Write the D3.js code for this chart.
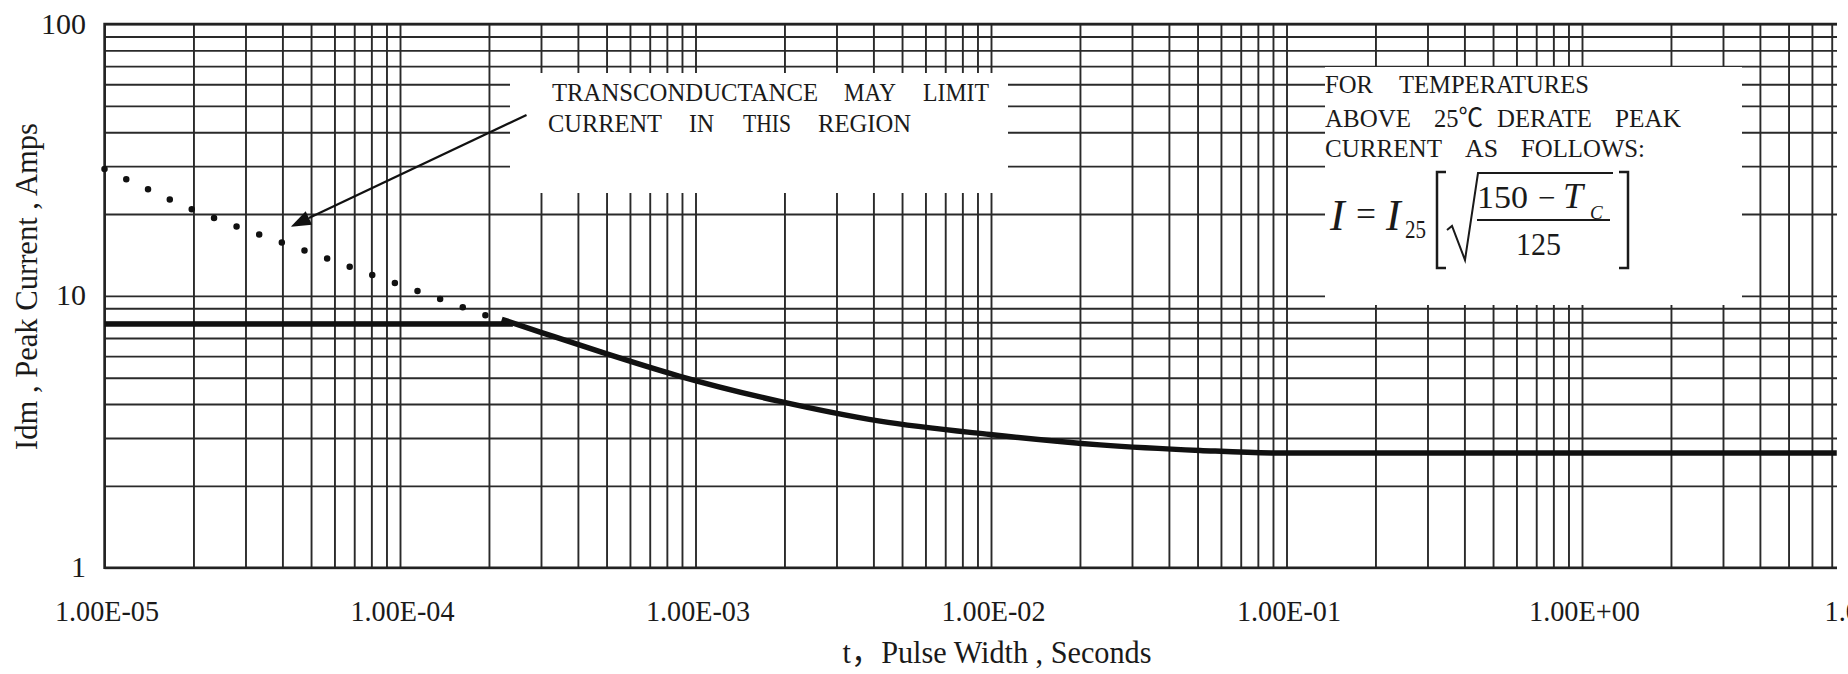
<!DOCTYPE html>
<html>
<head>
<meta charset="utf-8">
<script src="https://cdn.jsdelivr.net/npm/d3@7"></script>
<style>
  html, body { margin: 0; padding: 0; background: #fff; }
  svg { display: block; }
  text { font-family: "Liberation Serif", "Times New Roman", "Noto Sans CJK SC", serif; fill: #1a1a1a; }
</style>
</head>
<body>
<svg id="chart" width="1848" height="674"></svg>
<script>
// ---------------- data ----------------
const xTickValues = [1e-5, 1e-4, 1e-3, 1e-2, 1e-1, 1, 10];
const xTickLabels = ["1.00E-05", "1.00E-04", "1.00E-03", "1.00E-02", "1.00E-01", "1.00E+00", "1.00E+01"];
const yTickValues = [1, 10, 100];
const yTickLabels = ["1", "10", "100"];

// solid limit: flat part
const flatT = [1e-5, 2.41e-4];
const flatI = [7.88, 7.88];
// solid limit: thermal curve
const curveT = [2.21e-4, 2.98e-4, 4.75e-4, 8.79e-4, 1.93e-3, 4.21e-3, 9.92e-3, 2.34e-2, 5.10e-2, 9.5e-2, 0.2, 7.28];
const curveI = [8.2, 7.36, 6.23, 5.07, 4.09, 3.46, 3.09, 2.83, 2.70, 2.64, 2.64, 2.64];
// dotted transconductance limit
const dotT = [1e-5, 1.40e-5, 1.98e-5, 2.80e-5, 3.99e-5, 5.70e-5, 8.12e-5, 1.15e-4, 1.95e-4];
const dotI = [29.3, 24.7, 20.8, 18.0, 15.7, 13.7, 11.9, 10.4, 8.48];

// arrow annotation (data coordinates): start -> tip
const arrowFrom = [2.68e-4, 46.3];
const arrowTo = [4.27e-5, 17.97];

const xTitle = "t，Pulse Width , Seconds";
const yTitle = "Idm , Peak Current , Amps";

(function () {
// ---------------- layout ----------------
const W = 1848, H = 674;
const pLeft = 104.5, pTop = 24, pBottom = 567.7, pRight = 1837;
const x = d3.scaleLog().domain([1e-5, 10]).range([pLeft, 1877.5]);
const y = d3.scaleLog().domain([1, 100]).range([pBottom, pTop]);

const svg = d3.select("#chart");
svg.append("rect").attr("width", W).attr("height", H).attr("fill", "#fff");

const defs = svg.append("defs");
defs.append("clipPath").attr("id", "plotClip")
  .append("rect").attr("x", pLeft - 4).attr("y", pTop - 2)
  .attr("width", pRight - pLeft + 4).attr("height", pBottom - pTop + 4);

// grid tick values (every 1..9 of each decade)
const gridX = [];
for (let k = -5; k <= 1; k++) for (let m = 1; m <= 9; m++) { const v = m * Math.pow(10, k); if (v <= 10.0001) gridX.push(v); }
const gridY = [];
for (let k = 0; k <= 2; k++) for (let m = 1; m <= 9; m++) { const v = m * Math.pow(10, k); if (v <= 100.0001) gridY.push(v); }

const plot = svg.append("g").attr("clip-path", "url(#plotClip)");

const gx = plot.append("g").attr("transform", `translate(0,${pTop})`)
  .call(d3.axisBottom(x).tickValues(gridX).tickSize(pBottom - pTop).tickFormat(""));
gx.select(".domain").remove();
gx.selectAll("line").attr("stroke", "#2a2a2a").attr("stroke-width", 1.9);

const gy = plot.append("g").attr("transform", `translate(${pLeft},0)`)
  .call(d3.axisRight(y).tickValues(gridY).tickSize(pRight - pLeft).tickFormat(""));
gy.select(".domain").remove();
gy.selectAll("line").attr("stroke", "#2a2a2a").attr("stroke-width", 1.9);

// frame (left / top / bottom)
plot.append("path")
  .attr("d", `M${pRight},${y(100)}H${x(1e-5)}V${y(1)}H${pRight}`)
  .attr("fill", "none").attr("stroke", "#222").attr("stroke-width", 2.4);

// white annotation boxes covering the grid
svg.append("rect").attr("x", 510).attr("y", 73).attr("width", 498).attr("height", 120).attr("fill", "#fff");
svg.append("rect").attr("x", 1325).attr("y", 67).attr("width", 417).attr("height", 238).attr("fill", "#fff");

// curves
const lineGen = d3.line().x(d => x(d[0])).y(d => y(d[1]));
const curveGen = d3.line().x(d => x(d[0])).y(d => y(d[1])).curve(d3.curveMonotoneX);

const dotPath = plot.append("path")
  .datum(dotT.map((t, i) => [t, dotI[i]]))
  .attr("d", curveGen)
  .attr("fill", "none").attr("stroke", "#111").attr("stroke-width", 6.5)
  .attr("stroke-linecap", "round");
const dl = dotPath.node().getTotalLength();
dotPath.attr("stroke-dasharray", `0 ${dl / 17 - 0.02}`);

plot.append("path")
  .datum(flatT.map((t, i) => [t, flatI[i]]))
  .attr("d", lineGen)
  .attr("fill", "none").attr("stroke", "#111").attr("stroke-width", 5.5);

plot.append("path")
  .datum(curveT.map((t, i) => [t, curveI[i]]))
  .attr("d", curveGen)
  .attr("fill", "none").attr("stroke", "#111").attr("stroke-width", 5.5)
  .attr("stroke-linejoin", "round");

// arrow
const ax0 = x(arrowFrom[0]), ay0 = y(arrowFrom[1]);
const ax1 = x(arrowTo[0]), ay1 = y(arrowTo[1]);
const dx = ax0 - ax1, dy = ay0 - ay1, dlen = Math.hypot(dx, dy);
const ux = dx / dlen, uy = dy / dlen;
const headL = 20, headW = 7.5;
const bx = ax1 + ux * headL, by = ay1 + uy * headL;
svg.append("line").attr("x1", ax0).attr("y1", ay0).attr("x2", bx).attr("y2", by)
  .attr("stroke", "#111").attr("stroke-width", 2.2);
svg.append("path")
  .attr("d", `M${ax1},${ay1}L${bx - uy * headW},${by + ux * headW}L${bx + uy * headW},${by - ux * headW}Z`)
  .attr("fill", "#111");

// tick labels via axes
const xAxis = svg.append("g").attr("transform", `translate(2,${pBottom})`)
  .call(d3.axisBottom(x).tickValues(xTickValues).tickSize(0).tickPadding(0)
    .tickFormat((d, i) => xTickLabels[i]));
xAxis.select(".domain").remove();
xAxis.selectAll("text").attr("y", 53).attr("dy", 0)
  .attr("textLength", (d, i) => xTickLabels[i].includes("+") ? 111 : 104)
  .attr("lengthAdjust", "spacingAndGlyphs")
  .style("font-size", "30px").style("font-family", "'Liberation Serif', 'Times New Roman', serif").attr("fill", "#1a1a1a");

const yAxis = svg.append("g").attr("transform", `translate(86,0)`)
  .call(d3.axisLeft(y).tickValues(yTickValues).tickSize(0).tickPadding(0)
    .tickFormat((d, i) => yTickLabels[i]));
yAxis.select(".domain").remove();
yAxis.selectAll("text").attr("x", 0).attr("dy", 9)
  .style("font-size", "30px").style("font-family", "'Liberation Serif', 'Times New Roman', serif").attr("fill", "#1a1a1a");

// axis titles
svg.append("text").attr("x", 997).attr("y", 663).attr("text-anchor", "middle")
  .attr("textLength", 309).attr("lengthAdjust", "spacingAndGlyphs")
  .style("font-size", "32px").text(xTitle);
svg.append("text").attr("transform", "translate(37,286.5) rotate(-90)").attr("text-anchor", "middle")
  .attr("textLength", 327).attr("lengthAdjust", "spacingAndGlyphs")
  .style("font-size", "32px").text(yTitle);

// justified annotation words: [text, x0, x1, baseline]
function words(list, size) {
  list.forEach(([t, x0, x1, b]) => {
    svg.append("text").attr("x", x0).attr("y", b)
      .attr("textLength", x1 - x0).attr("lengthAdjust", "spacingAndGlyphs")
      .style("font-size", size + "px").text(t);
  });
}
words([
  ["TRANSCONDUCTANCE", 552, 818, 101], ["MAY", 844, 896, 101], ["LIMIT", 923, 989, 101],
  ["CURRENT", 548, 662, 132], ["IN", 689, 714, 132], ["THIS", 743, 791, 132], ["REGION", 818, 911, 132]
], 26);
words([
  ["FOR", 1325, 1373, 93], ["TEMPERATURES", 1399, 1589, 93],
  ["ABOVE", 1325, 1411, 127], ["25℃", 1434, 1483, 127], ["DERATE", 1497, 1592, 127], ["PEAK", 1615, 1681, 127],
  ["CURRENT", 1325, 1442, 157], ["AS", 1465, 1498, 157], ["FOLLOWS:", 1521, 1645, 157]
], 26);

// formula  I = I25 [ sqrt((150 - Tc)/125) ]
const f = svg.append("g");
f.append("text").attr("x", 1330).attr("y", 230).style("font-size", "44px").style("font-style", "italic").text("I");
f.append("text").attr("x", 1356).attr("y", 226).attr("textLength", 20).attr("lengthAdjust", "spacingAndGlyphs").style("font-size", "36px").text("=");
f.append("text").attr("x", 1386).attr("y", 230).style("font-size", "44px").style("font-style", "italic").text("I");
f.append("text").attr("x", 1405).attr("y", 238).attr("textLength", 21).attr("lengthAdjust", "spacingAndGlyphs").style("font-size", "25px").text("25");
f.append("text").attr("x", 1477).attr("y", 208).attr("textLength", 51).attr("lengthAdjust", "spacingAndGlyphs").style("font-size", "31px").text("150");
f.append("text").attr("x", 1538).attr("y", 208).style("font-size", "31px").text("−");
f.append("text").attr("x", 1563).attr("y", 208).style("font-size", "36px").style("font-style", "italic").text("T");
f.append("text").attr("x", 1590).attr("y", 219).style("font-size", "19px").style("font-style", "italic").text("C");
f.append("text").attr("x", 1516).attr("y", 255).attr("textLength", 45).attr("lengthAdjust", "spacingAndGlyphs").style("font-size", "31px").text("125");
f.append("path").attr("d", "M1446,172H1437V268H1446").attr("fill", "none").attr("stroke", "#1a1a1a").attr("stroke-width", 2.5);
f.append("path").attr("d", "M1619,172H1628V268H1619").attr("fill", "none").attr("stroke", "#1a1a1a").attr("stroke-width", 2.5);
f.append("path").attr("d", "M1447,230L1452,226L1465,260L1478,173H1613").attr("fill", "none").attr("stroke", "#1a1a1a").attr("stroke-width", 2);
f.append("path").attr("d", "M1477,220H1610").attr("fill", "none").attr("stroke", "#1a1a1a").attr("stroke-width", 2);
})();
</script>
</body>
</html>
